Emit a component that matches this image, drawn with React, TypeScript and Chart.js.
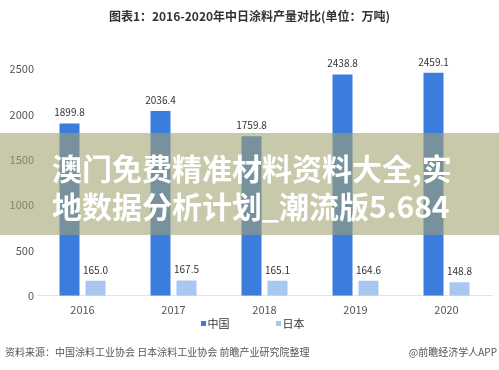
import React, { useEffect, useRef } from "react";
import { Chart, registerables } from "chart.js";

Chart.register(...registerables);

const categories = ["2016", "2017", "2018", "2019", "2020"];
const chinaValues = [1899.8, 2036.4, 1759.8, 2438.8, 2459.1];
const japanValues = [165.0, 167.5, 165.1, 164.6, 148.8];
const seriesNames = ["中国", "日本"];
const seriesColors = ["#3b7ddd", "#a9c8ef"];
const yMin = 0;
const yMax = 2500;
const yStep = 500;
const titleText = "图表1：2016-2020年中日涂料产量对比(单位：万吨)";
const sourceText = "资料来源：中国涂料工业协会 日本涂料工业协会 前瞻产业研究院整理";
const creditText = "@前瞻经济学人APP";
const overlayLines = ["澳门免费精准材料资料大全,实", "地数据分析计划_潮流版5.684"];

const FONT = '"Noto Sans CJK SC", "Noto Sans", sans-serif';

const valueLabels = {
  id: "valueLabels",
  afterDatasetsDraw(chart: any) {
    const ctx = chart.ctx;
    ctx.save();
    ctx.font = `10px ${FONT}`;
    ctx.fillStyle = "#333";
    ctx.textAlign = "center";
    ctx.textBaseline = "middle";
    chart.data.datasets.forEach((ds: any, i: number) => {
      const meta = chart.getDatasetMeta(i);
      meta.data.forEach((el: any, j: number) => {
        const v = ds.data[j];
        ctx.fillText(Number(v).toFixed(1), el.x, el.y - 11);
      });
    });
    ctx.restore();
  },
};

export default function App() {
  const ref = useRef<HTMLCanvasElement | null>(null);
  useEffect(() => {
    if (!ref.current) return;
    Chart.defaults.font.family = FONT;
    const chart = new Chart(ref.current, {
      type: "bar",
      data: {
        labels: categories,
        datasets: [
          {
            label: seriesNames[0],
            data: chinaValues,
            backgroundColor: seriesColors[0],
            categoryPercentage: 0.571,
            barPercentage: 0.77,
          },
          {
            label: seriesNames[1],
            data: japanValues,
            backgroundColor: seriesColors[1],
            categoryPercentage: 0.571,
            barPercentage: 0.77,
          },
        ],
      },
      options: {
        animation: false,
        responsive: false,
        maintainAspectRatio: false,
        layout: { padding: { top: 69, bottom: 47, left: 8, right: 7 } },
        plugins: {
          legend: { display: false },
          title: { display: false },
          tooltip: { enabled: false },
        },
        scales: {
          x: {
            grid: { display: false, drawTicks: false },
            border: { display: true, color: "#e3e3e3" },
            ticks: { color: "#555", font: { size: 11 }, padding: 7 },
          },
          y: {
            min: yMin,
            max: yMax,
            grid: { display: false, drawTicks: false },
            border: { display: false },
            ticks: {
              stepSize: yStep,
              color: "#555",
              font: { size: 11 },
              padding: 3,
              callback: (v: any) => String(v),
            },
            afterFit: (s: any) => {
              s.width = 29;
            },
          },
        },
      },
      plugins: [valueLabels],
    });
    return () => chart.destroy();
  }, []);

  return (
    <div
      style={{
        position: "fixed",
        left: 0,
        top: 0,
        width: 499,
        height: 370,
        background: "#fff",
        fontFamily: FONT,
        overflow: "hidden",
      }}
    >
      <canvas ref={ref} width={499} height={370} style={{ position: "absolute", left: 0, top: 0 }} />
      <div
        style={{
          position: "absolute",
          top: 7,
          left: 0,
          width: 499,
          textAlign: "center",
          fontSize: 12,
          fontWeight: "bold",
          color: "#333",
          lineHeight: "18px",
        }}
      >
        {titleText}
      </div>
      <div
        style={{
          position: "absolute",
          top: 316,
          left: 0,
          width: 499,
          display: "flex",
          justifyContent: "center",
          gap: 46,
          fontSize: 11,
          color: "#333",
          lineHeight: "14px",
          paddingLeft: 6,
          boxSizing: "border-box",
        }}
      >
        {seriesNames.map((n, i) => (
          <div key={n} style={{ display: "flex", alignItems: "center" }}>
            <span style={{ display: "inline-block", width: 5, height: 5, background: seriesColors[i], marginRight: 2 }} />
            <span>{n}</span>
          </div>
        ))}
      </div>
      <div
        style={{
          position: "absolute",
          top: 345,
          left: 5,
          fontSize: 10,
          color: "#555",
          lineHeight: "14px",
          whiteSpace: "nowrap",
        }}
      >
        {sourceText}
      </div>
      <div
        style={{
          position: "absolute",
          top: 345,
          right: 2,
          fontSize: 10,
          color: "#555",
          lineHeight: "14px",
          whiteSpace: "nowrap",
        }}
      >
        {creditText}
      </div>
      <div
        style={{
          position: "absolute",
          top: 133,
          left: 0,
          width: 499,
          height: 102,
          background: "rgba(162,161,111,0.59)",
          boxSizing: "border-box",
          paddingTop: 15,
          paddingLeft: 52,
          color: "#fff",
          fontWeight: "bold",
          fontSize: 30,
          lineHeight: "38px",
          whiteSpace: "nowrap",
        }}
      >
        {overlayLines.map((l) => (
          <div key={l}>{l}</div>
        ))}
      </div>
    </div>
  );
}
